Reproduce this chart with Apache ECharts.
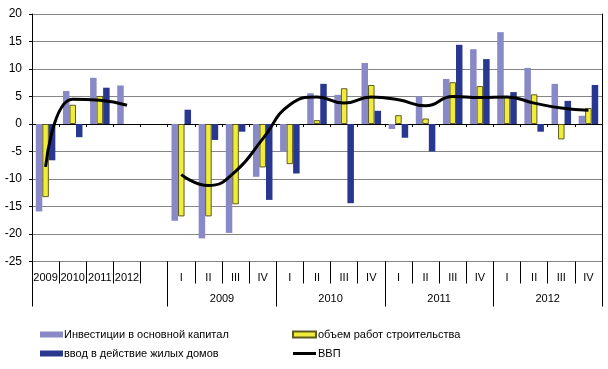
<!DOCTYPE html>
<html>
<head>
<meta charset="utf-8">
<script src="https://cdn.jsdelivr.net/npm/echarts@6/dist/echarts.min.js"></script>
<style>
html,body{margin:0;padding:0;background:#fff;}
#c{width:608px;height:369px;}
</style>
</head>
<body>
<div id="c"></div>
<script>
var categories = ['2009','2010','2011','2012','','I','II','III','IV','I','II','III','IV','I','II','III','IV','I','II','III','IV'];
var groupYears = ['2009','2010','2011','2012'];
var groupCenters = [7, 11, 15, 19];
var groupBounds = [0, 5, 9, 13, 17, 21];
var yTicks = {min: -25, max: 20, interval: 5};

var seriesNames = ['Инвестиции в основной капитал','объем работ строительства','ввод в действие жилых домов','ВВП'];
var invest  = [-15.9, 6.0, 8.4, 7.0, null, -17.6, -20.8, -19.8, -9.6, -5.0, 5.6, 5.3, 11.1, -0.9, 5.0, 8.2, 13.6, 16.7, 10.2, 7.3, 1.5];
var constr  = [-13.3, 3.5, 5.1, null, null, -16.8, -16.8, -14.6, -7.9, -7.3, 0.7, 6.5, 7.1, 1.6, 1.0, 7.6, 6.9, 5.1, 5.4, -2.8, 2.9];
var housing = [-6.6, -2.4, 6.6, null, null, 2.6, -2.9, -1.4, -13.8, -9.0, 7.3, -14.4, 2.4, -2.5, -5.0, 14.4, 11.8, 5.8, -1.4, 4.2, 7.1];
var gdp     = [-7.8, 4.5, 4.3, 3.4, null, -9.2, -11.2, -8.6, -2.7, 3.5, 4.9, 3.8, 4.9, 4.4, 3.3, 5.0, 4.8, 4.9, 3.8, 2.9, 2.5];

var FONT = '"Liberation Sans", Arial, sans-serif';
var chart = echarts.init(document.getElementById('c'));
chart.setOption({
  animation: false,
  backgroundColor: '#fff',
  textStyle: {fontFamily: FONT},
  grid: {left: 32, right: 6, top: 14, bottom: 107.5, containLabel: false},
  legend: [{
    orient: 'vertical', left: 40, top: 329, padding: 0,
    itemWidth: 23, itemHeight: 6, itemGap: 8, icon: 'rect',
    textStyle: {fontSize: 11, color: '#000', fontFamily: FONT, padding: [0,0,0,-4]},
    data: [seriesNames[0], seriesNames[2]]
  }, {
    orient: 'vertical', left: 292, top: 329, padding: 0,
    itemWidth: 23, itemHeight: 6, itemGap: 8,
    textStyle: {fontSize: 11, color: '#000', fontFamily: FONT, padding: [0,0,0,-3]},
    data: [{name: seriesNames[1], icon: 'rect'}, {name: seriesNames[3], icon: 'path://M0,0H23V3H0Z'}]
  }],
  xAxis: [{
    type: 'category', data: categories, position: 'bottom',
    axisLine: {onZero: true, onZeroAxisIndex: 0, lineStyle: {color: '#000', width: 1}},
    axisTick: {show: true, interval: 0, length: 3, lineStyle: {color: '#000'}},
    axisLabel: {show: false},
    splitLine: {show: false}
  }, {
    type: 'category', data: categories, position: 'bottom',
    axisLine: {show: false, onZero: false},
    axisTick: {show: true, interval: 0, length: 22, lineStyle: {color: '#000'}},
    axisLabel: {show: true, interval: 0, fontSize: 11, color: '#000', margin: 11, fontFamily: FONT},
    splitLine: {show: false}
  }, {
    type: 'value', min: 0, max: 21, position: 'bottom',
    axisLine: {show: false, onZero: false},
    axisTick: {show: true, length: 45, customValues: groupBounds, lineStyle: {color: '#000'}},
    axisLabel: {show: true, fontSize: 11, color: '#000', margin: 32, fontFamily: FONT,
      customValues: groupCenters,
      formatter: function (v) { var i = groupCenters.indexOf(v); return i >= 0 ? groupYears[i] : ''; }},
    splitLine: {show: false}
  }],
  yAxis: [{
    type: 'value', min: yTicks.min, max: yTicks.max, interval: yTicks.interval, position: 'left',
    axisLine: {show: true, onZero: false, lineStyle: {color: '#000'}},
    axisTick: {show: true, length: 3, lineStyle: {color: '#000'}},
    axisLabel: {fontSize: 12, color: '#000', margin: 10, fontFamily: FONT},
    splitLine: {show: true, lineStyle: {color: '#858585', width: 1}}
  }, {
    type: 'value', min: yTicks.min, max: yTicks.max, interval: yTicks.interval, position: 'right',
    axisLine: {show: true, onZero: false, lineStyle: {color: '#000'}},
    axisTick: {show: false}, axisLabel: {show: false}, splitLine: {show: false}
  }],
  series: [{
    name: seriesNames[0], type: 'bar', data: invest, xAxisIndex: 0, yAxisIndex: 0,
    barGap: '0%', barCategoryGap: '28%',
    itemStyle: {color: '#8889c6'}
  }, {
    name: seriesNames[1], type: 'bar', data: constr, xAxisIndex: 0, yAxisIndex: 0,
    barGap: '0%', barCategoryGap: '28%',
    itemStyle: {color: '#f0ec3c', borderColor: '#5e5a22', borderWidth: 1}
  }, {
    name: seriesNames[2], type: 'bar', data: housing, xAxisIndex: 0, yAxisIndex: 0,
    barGap: '0%', barCategoryGap: '28%',
    itemStyle: {color: '#283891'}
  }, {
    name: seriesNames[3], type: 'line', data: gdp, xAxisIndex: 0, yAxisIndex: 0,
    smooth: 0.5, smoothConstraint: false, symbol: 'none', connectNulls: false, z: 5,
    lineStyle: {color: '#000', width: 3},
    itemStyle: {color: '#000'}
  }]
});
</script>
</body>
</html>
